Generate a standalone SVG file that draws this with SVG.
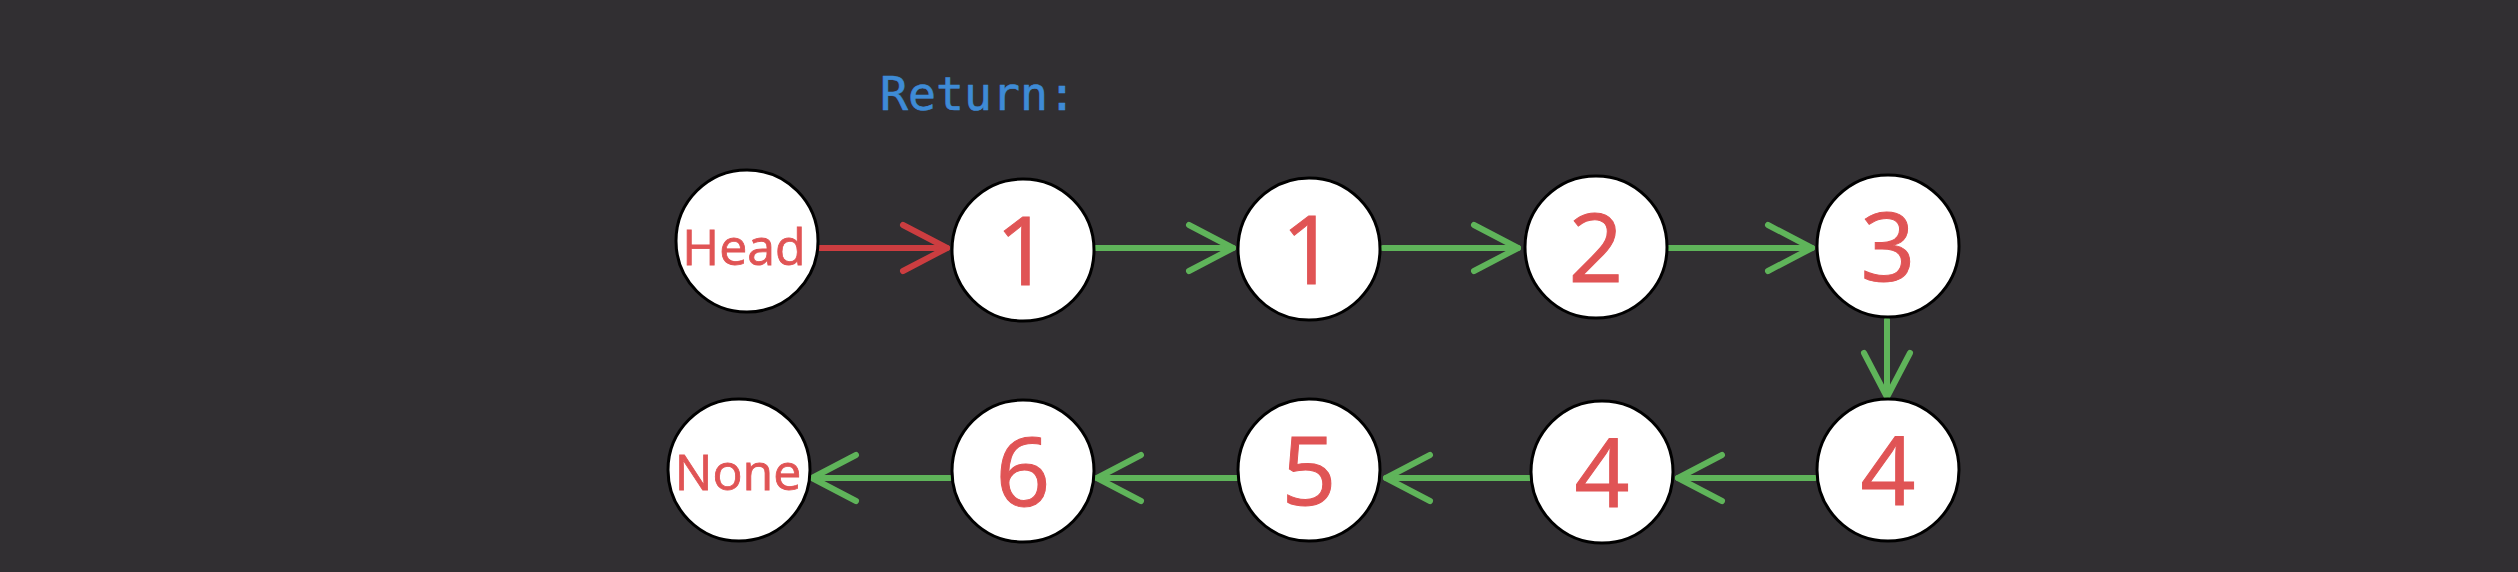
<svg xmlns="http://www.w3.org/2000/svg" width="2518" height="572" viewBox="0 0 2518 572">
<style>
.node circle{fill:#ffffff;stroke:#000000;stroke-width:3}
.num{font-family:"Open Sans","Noto Sans",sans-serif;font-size:96px;fill:#e05455;stroke:#e05455;stroke-width:1;text-anchor:middle}
.word{font-family:"Open Sans","Noto Sans",sans-serif;font-size:50px;fill:#e05455;stroke:#e05455;stroke-width:0.8;text-anchor:middle}
.title{font-family:"DejaVu Sans Mono","Liberation Mono",monospace;font-size:46.5px;fill:#3e8bd6;stroke:#3e8bd6;stroke-width:0.6}
.conn line{stroke-width:6;stroke-linecap:round}
.g{stroke:#5fb45a}
.r{stroke:#cc3d40}
</style>
<defs>
<marker id="ag" markerUnits="userSpaceOnUse" viewBox="-52 -30 60 60" markerWidth="60" markerHeight="60" refX="0" refY="0" orient="auto">
<path d="M-44,-23 L0,0 L-44,23" fill="none" stroke="#5fb45a" stroke-width="6" stroke-linecap="round" stroke-linejoin="round"/>
</marker>
<marker id="ar" markerUnits="userSpaceOnUse" viewBox="-52 -30 60 60" markerWidth="60" markerHeight="60" refX="0" refY="0" orient="auto">
<path d="M-44,-23 L0,0 L-44,23" fill="none" stroke="#cc3d40" stroke-width="6" stroke-linecap="round" stroke-linejoin="round"/>
</marker>
</defs>
<rect x="0" y="0" width="2518" height="572" fill="#312f32"/>
<text class="title" x="880" y="110">Return:</text>
<g id="connectors" class="conn">
<line class="r" x1="820" y1="248" x2="947" y2="248" marker-end="url(#ar)"/>
<line class="g" x1="1096" y1="248" x2="1233" y2="248" marker-end="url(#ag)"/>
<line class="g" x1="1383" y1="248" x2="1518" y2="248" marker-end="url(#ag)"/>
<line class="g" x1="1668" y1="248" x2="1812" y2="248" marker-end="url(#ag)"/>
<line class="g" x1="1887" y1="320" x2="1887" y2="397" marker-end="url(#ag)"/>
<line class="g" x1="1815" y1="478" x2="1678" y2="478" marker-end="url(#ag)"/>
<line class="g" x1="1530" y1="478" x2="1386" y2="478" marker-end="url(#ag)"/>
<line class="g" x1="1238" y1="478" x2="1097" y2="478" marker-end="url(#ag)"/>
<line class="g" x1="950" y1="478" x2="812" y2="478" marker-end="url(#ag)"/>
</g>
<g id="node-head" class="node"><circle cx="747" cy="241" r="71"/><text class="word" x="744" y="265">Head</text></g>
<g id="node-1a" class="node"><circle cx="1023" cy="250" r="71"/><text class="num" x="1023" y="285">1</text></g>
<g id="node-1b" class="node"><circle cx="1309" cy="249" r="71"/><text class="num" x="1309" y="284">1</text></g>
<g id="node-2" class="node"><circle cx="1596" cy="247" r="71"/><text class="num" x="1596" y="282">2</text></g>
<g id="node-3" class="node"><circle cx="1888" cy="246" r="71"/><text class="num" x="1888" y="281">3</text></g>
<g id="node-4a" class="node"><circle cx="1888" cy="470" r="71"/><text class="num" x="1888" y="505">4</text></g>
<g id="node-4b" class="node"><circle cx="1602" cy="472" r="71"/><text class="num" x="1602" y="507">4</text></g>
<g id="node-5" class="node"><circle cx="1309" cy="470" r="71"/><text class="num" x="1309" y="505">5</text></g>
<g id="node-6" class="node"><circle cx="1023" cy="471" r="71"/><text class="num" x="1023" y="506">6</text></g>
<g id="node-none" class="node"><circle cx="739" cy="470" r="71"/><text class="word" x="738" y="490">None</text></g>
</svg>
